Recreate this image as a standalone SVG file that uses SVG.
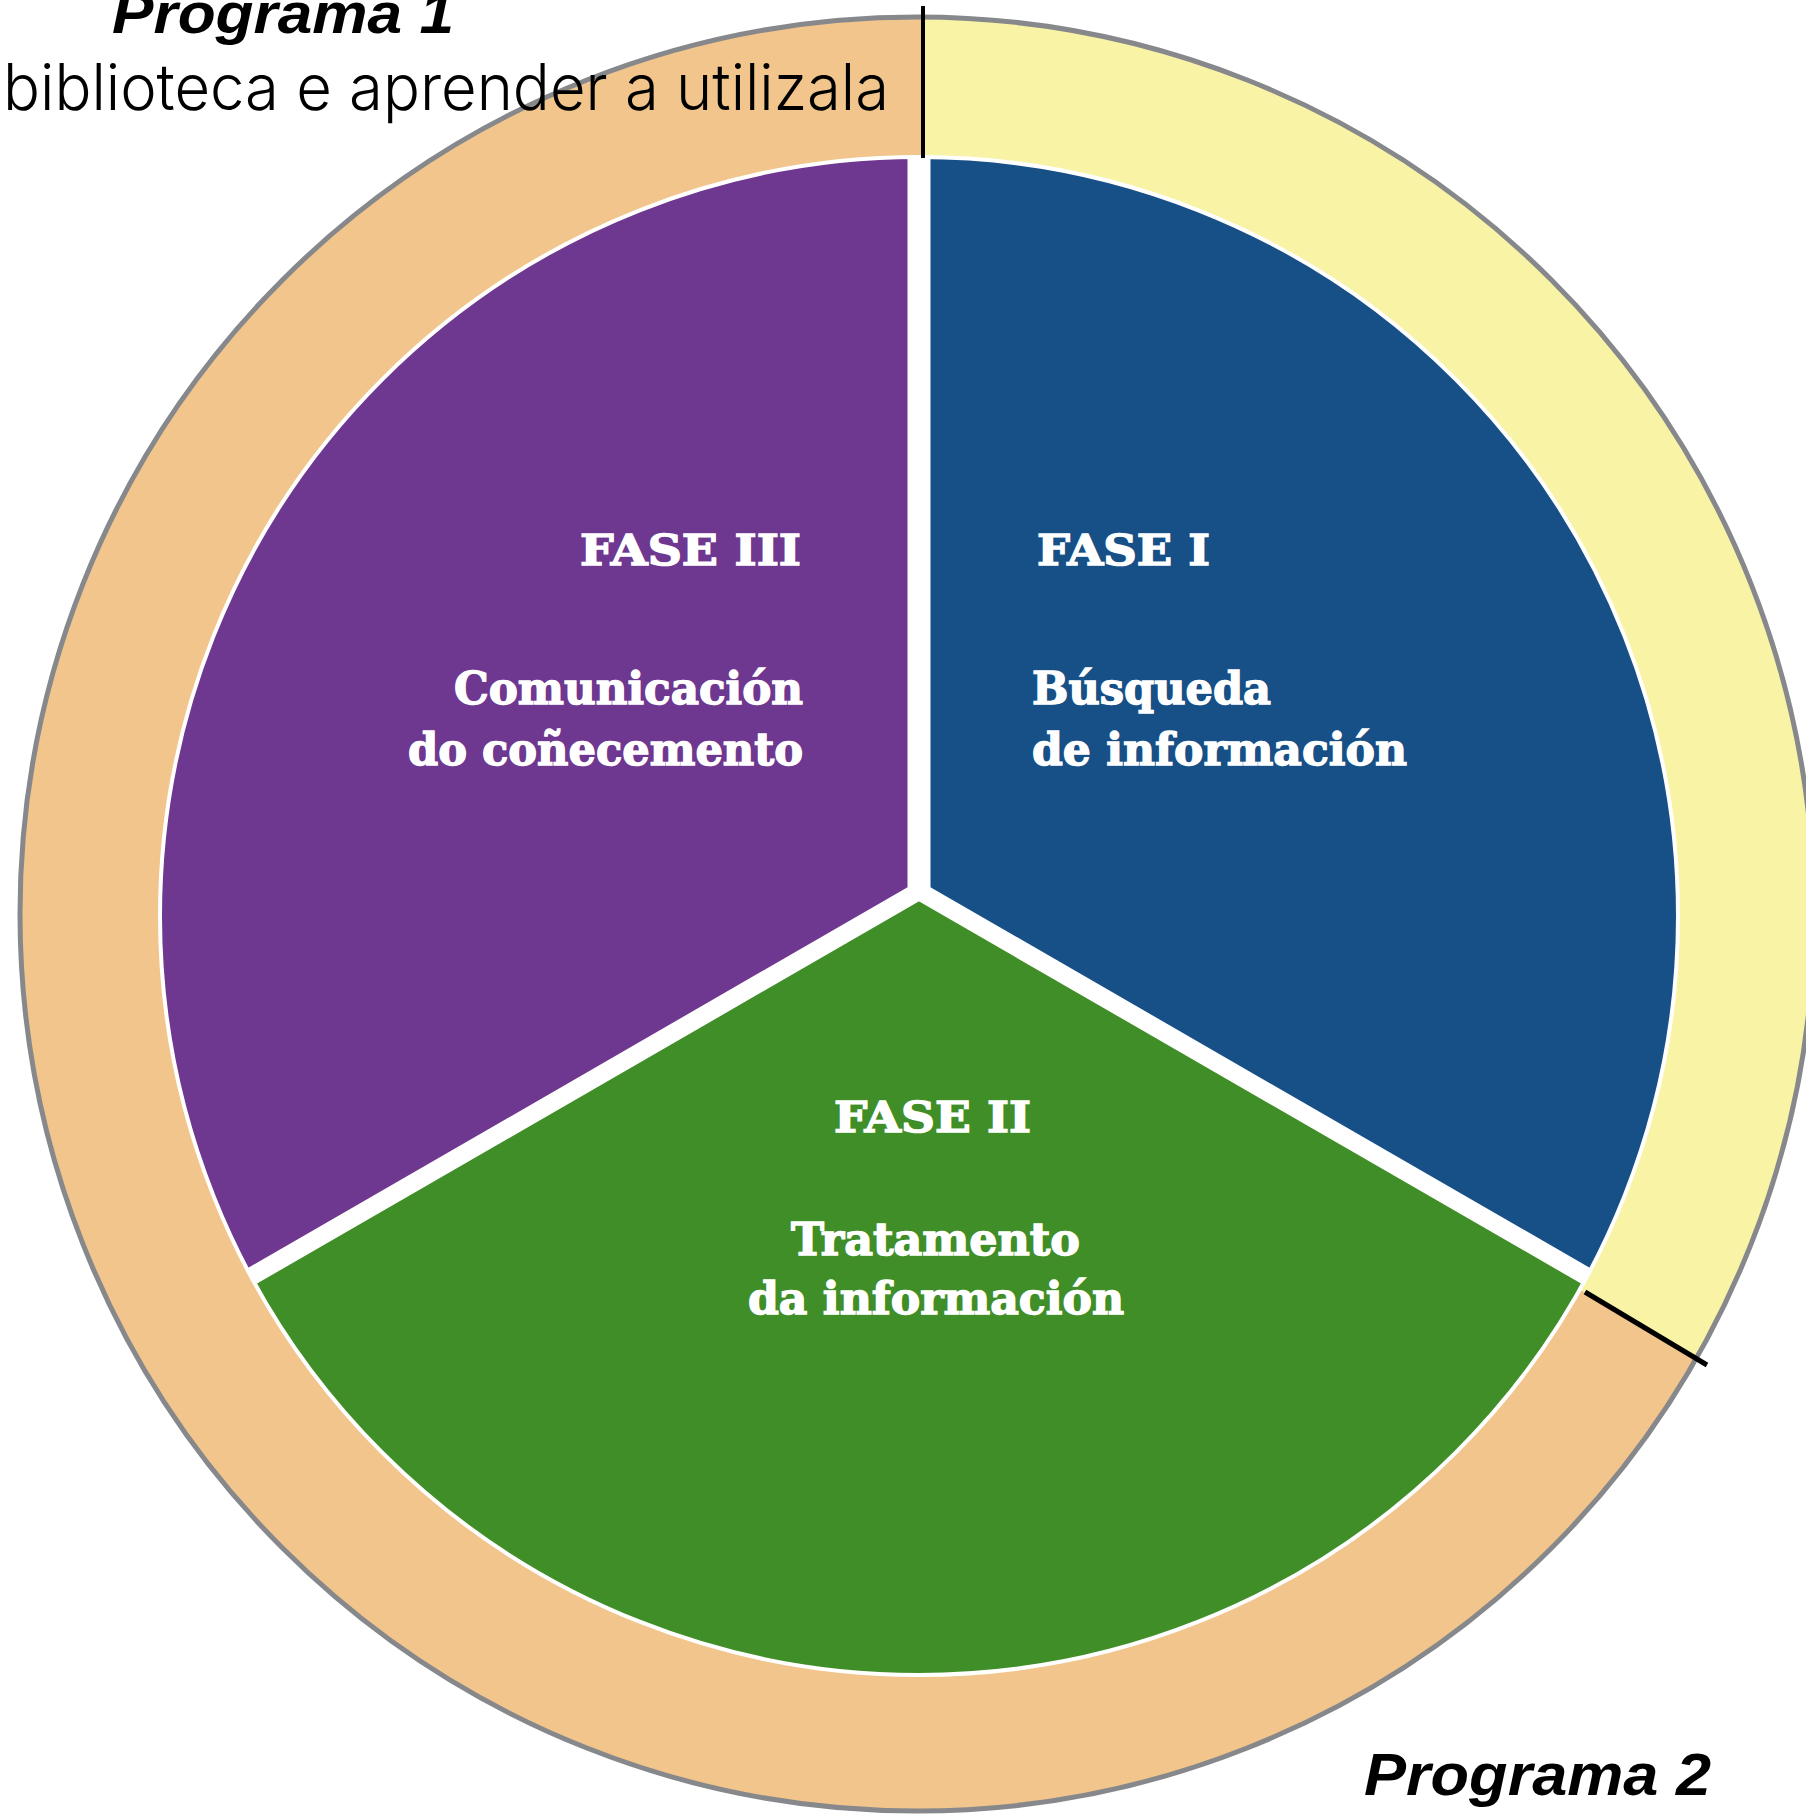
<svg xmlns="http://www.w3.org/2000/svg" width="1806" height="1817" viewBox="0 0 1806 1817">
  <style>
    .phase { font-family: "DejaVu Serif", "Liberation Serif", serif; font-weight: bold; fill: #ffffff; stroke: #ffffff; stroke-width: 1.4; }
    .prog { font-family: "Liberation Sans", Arial, sans-serif; font-weight: bold; font-style: italic; fill: #000000; }
    .light { font-family: "Inter", "Roboto", "Liberation Sans", sans-serif; font-weight: 300; fill: #000000; }
    .gap { stroke: #ffffff; fill: none; }
    .divider { stroke: #000000; fill: none; }
  </style>
  <defs>
    <clipPath id="ringClip"><circle cx="917" cy="914" r="898"/></clipPath>
    <clipPath id="pieClip"><circle cx="919" cy="916" r="759"/></clipPath>
  </defs>
  <rect x="0" y="0" width="1806" height="1817" fill="#ffffff"/>

  <g id="ring">
    <circle cx="917" cy="914" r="897" fill="#F1C58C"/>
    <path d="M923,-10 L1900,-10 L1900,1480 L919,896 L923,896 Z" fill="#F9F3A6" clip-path="url(#ringClip)"/>
    <circle cx="917" cy="914" r="897" fill="none" stroke="#86888C" stroke-width="5"/>
  </g>

  <g id="pie" clip-path="url(#pieClip)">
    <g id="fase1">
      <path d="M919,891 L919,-100 L2000,-100 L2000,1515 Z" fill="#174F87"/>
    </g>
    <g id="fase3">
      <path d="M919,891 L919,-100 L-200,-100 L-200,1537 Z" fill="#6E3790"/>
    </g>
    <g id="fase2">
      <path d="M919,891 L2000,1515 L2000,2000 L-200,2000 L-200,1537 Z" fill="#408E27"/>
    </g>
    <line class="gap" x1="919" y1="891" x2="919" y2="-100" stroke-width="23"/>
    <line class="gap" x1="919" y1="891" x2="2000" y2="1515" stroke-width="18"/>
    <line class="gap" x1="919" y1="891" x2="-200" y2="1537" stroke-width="18"/>
  </g>
  <circle cx="919" cy="916" r="759" fill="none" stroke="#ffffff" stroke-width="4"/>

  <g id="connectors">
    <line class="divider" x1="923" y1="6" x2="923" y2="158" stroke-width="4"/>
    <line class="divider" x1="1585" y1="1292" x2="1707" y2="1365" stroke-width="5"/>
  </g>

  <g id="label-fase3">
    <text class="phase" x="580" y="565" font-size="42" textLength="221" lengthAdjust="spacingAndGlyphs">FASE III</text>
    <text class="phase" x="454" y="704" font-size="44" textLength="349" lengthAdjust="spacingAndGlyphs">Comunicación</text>
    <text class="phase" x="408" y="765" font-size="44" textLength="395" lengthAdjust="spacingAndGlyphs">do coñecemento</text>
  </g>
  <g id="label-fase1">
    <text class="phase" x="1037" y="565" font-size="42" textLength="173" lengthAdjust="spacingAndGlyphs">FASE I</text>
    <text class="phase" x="1032" y="704" font-size="44" textLength="239" lengthAdjust="spacingAndGlyphs">Búsqueda</text>
    <text class="phase" x="1032" y="765" font-size="44" textLength="375" lengthAdjust="spacingAndGlyphs">de información</text>
  </g>
  <g id="label-fase2">
    <text class="phase" x="834" y="1132" font-size="42" textLength="197" lengthAdjust="spacingAndGlyphs">FASE II</text>
    <text class="phase" x="791" y="1255" font-size="44" textLength="289" lengthAdjust="spacingAndGlyphs">Tratamento</text>
    <text class="phase" x="748" y="1314" font-size="44" textLength="376" lengthAdjust="spacingAndGlyphs">da información</text>
  </g>

  <g id="programa1">
    <text class="prog" x="112" y="33" font-size="58" textLength="342" lengthAdjust="spacingAndGlyphs">Programa 1</text>
    <text class="light" x="3" y="110" font-size="64" textLength="886" lengthAdjust="spacingAndGlyphs">biblioteca e aprender a utilizala</text>
  </g>
  <g id="programa2">
    <text class="prog" x="1364" y="1795" font-size="60" textLength="347" lengthAdjust="spacingAndGlyphs">Programa 2</text>
  </g>
</svg>
